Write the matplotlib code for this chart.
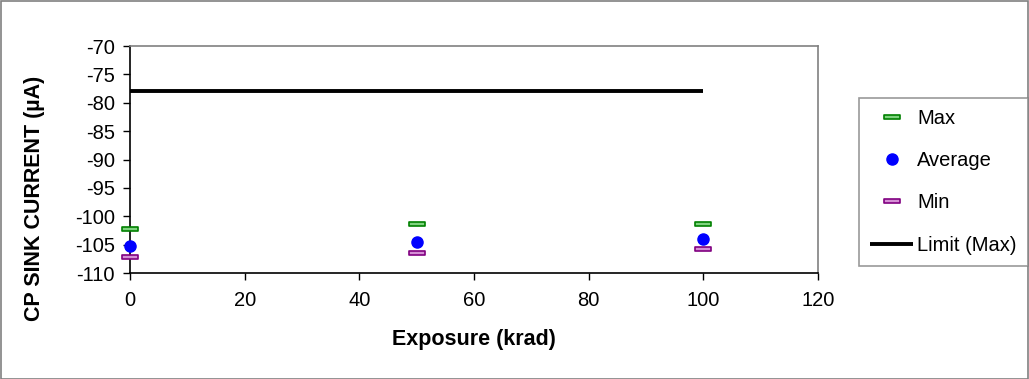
import matplotlib
matplotlib.use("Agg")
import matplotlib.pyplot as plt
from matplotlib.path import Path
from matplotlib.patches import Rectangle

plt.rcParams['font.family'] = ['Liberation Sans', 'DejaVu Sans']
plt.rcParams['axes.unicode_minus'] = False

exposure = [0, 50, 100]
max_vals = [-102.2, -101.4, -101.3]
avg_vals = [-105.2, -104.6, -104.0]
min_vals = [-107.1, -106.4, -105.7]
limit_x = [0, 100]
limit_y = [-78, -78]

# flat rectangle marker for max/min
dash = Path([(-1, -0.3), (1, -0.3), (1, 0.3), (-1, 0.3), (-1, -0.3)],
            [Path.MOVETO, Path.LINETO, Path.LINETO, Path.LINETO, Path.CLOSEPOLY])

W, H = 1029, 379
fig = plt.figure(figsize=(W / 100, H / 100), dpi=100)
ax = fig.add_axes([130 / W, 1 - 273 / H, (818 - 130) / W, (273 - 46) / H])

ax.plot(exposure, max_vals, linestyle='none', marker=dash, markersize=11,
        markerfacecolor='#7fd37f', markeredgecolor='#008000', markeredgewidth=1.2,
        label='Max', clip_on=False, zorder=4)
ax.plot(exposure, avg_vals, linestyle='none', marker='o', markersize=8,
        markerfacecolor='#0000ff', markeredgecolor='#0000ff',
        label='Average', clip_on=False, zorder=5)
ax.plot(exposure, min_vals, linestyle='none', marker=dash, markersize=11,
        markerfacecolor='#d58fd5', markeredgecolor='#800080', markeredgewidth=1.2,
        label='Min', clip_on=False, zorder=4)
ax.plot(limit_x, limit_y, color='black', linewidth=2.8, label='Limit (Max)',
        solid_capstyle='butt', zorder=3)

ax.set_xlim(0, 120)
ax.set_ylim(-110, -70)
ax.set_xticks(range(0, 121, 20))
ax.set_yticks(range(-110, -69, 5))
ax.tick_params(direction='out', length=5, width=1, labelsize=14.5, colors='black')
ax.tick_params(axis='x', pad=8)
ax.tick_params(axis='y', pad=6)

ax.spines['left'].set_color('black')
ax.spines['bottom'].set_color('black')
ax.spines['top'].set_color('#808080')
ax.spines['right'].set_color('#808080')
for s in ax.spines.values():
    s.set_linewidth(1.2)

ax.set_xlabel('Exposure (krad)', fontsize=15.5, fontweight='bold')
ax.set_ylabel('CP SINK CURRENT (µA)', fontsize=15.5, fontweight='bold')
ax.xaxis.set_label_coords(0.5, -0.245)
ax.yaxis.set_label_coords(-0.124, 0.33)

leg = fig.legend(loc='upper left', bbox_to_anchor=(859 / W, 1 - 98 / H),
                 fontsize=14.5, frameon=True, fancybox=False, edgecolor='#808080',
                 handlelength=2.15, handletextpad=0.2, labelspacing=1.15,
                 borderpad=0.55, borderaxespad=0)
leg.get_frame().set_linewidth(1.2)

fig.patches.append(Rectangle((0.5 / W, 0.5 / H), 1 - 1.5 / W, 1 - 1.5 / H,
                             transform=fig.transFigure, fill=False,
                             edgecolor='#808080', linewidth=1.2))

fig.savefig('out.png', dpi=100)
